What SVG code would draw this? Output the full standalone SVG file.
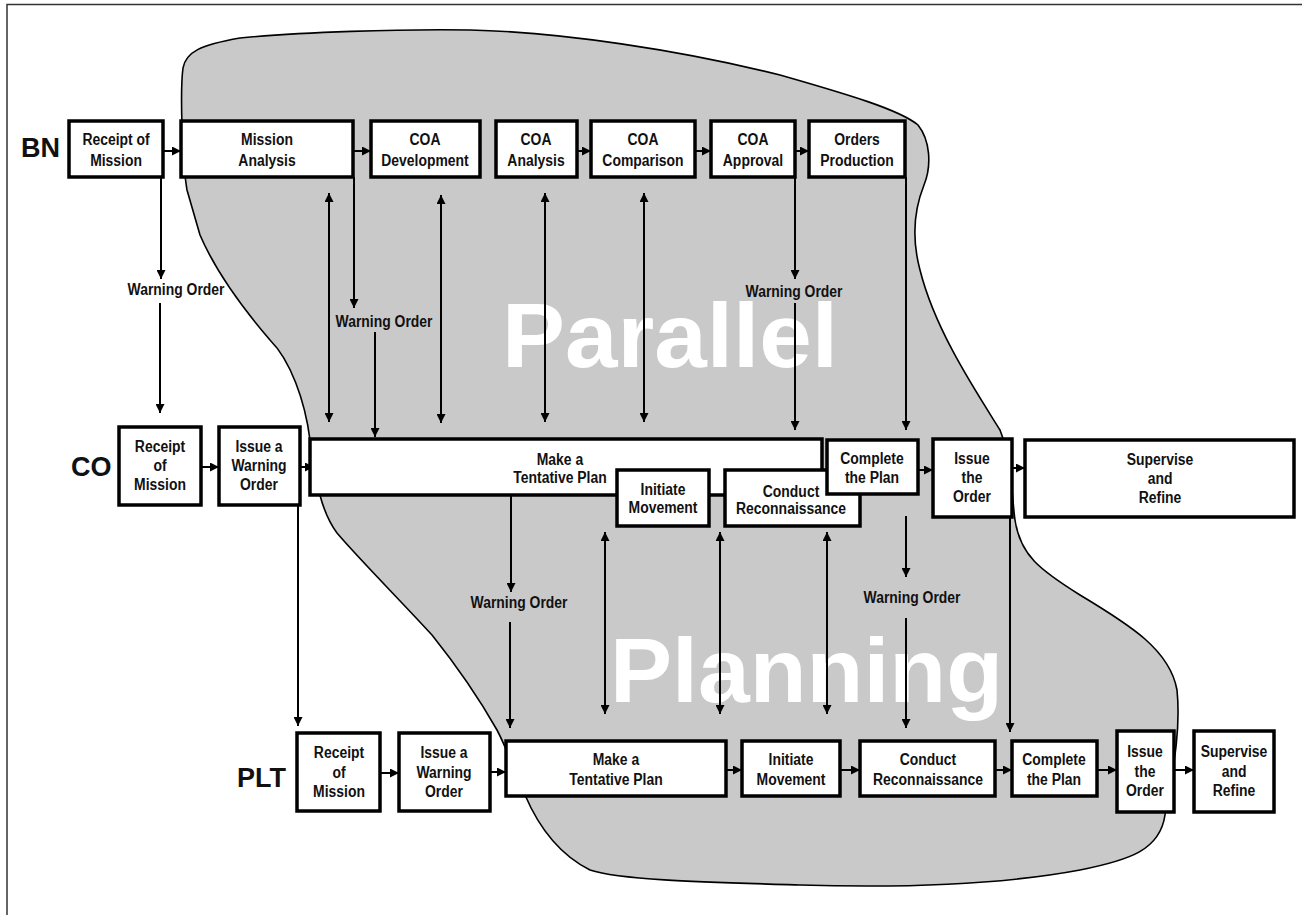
<svg xmlns="http://www.w3.org/2000/svg" width="1302" height="915" viewBox="0 0 1302 915">
  <style>
    .frame { fill: none; stroke: #333; stroke-width: 1.5; }
    .blob { fill: #c9c9c9; stroke: #000; stroke-width: 1.6; }
    .box { fill: #fff; stroke: #000; stroke-width: 3.5; }
    .t { font-family: "Liberation Sans Narrow", "Liberation Sans", Arial, sans-serif; font-weight: bold; font-size: 17px; text-anchor: middle; fill: #111;
         transform-box: fill-box; transform-origin: center; transform: scaleX(0.82); }
    .lvl { font-family: "Liberation Sans", Arial, sans-serif; font-weight: bold; font-size: 27px; fill: #111; }
    .big { font-family: "Liberation Sans", Arial, sans-serif; font-weight: bold; font-size: 90px; fill: #fff; }
    .ln { stroke: #000; stroke-width: 2; fill: none; }
  </style>
  <defs>
    <marker id="ah" viewBox="0 0 10 10" refX="10" refY="5" markerWidth="9" markerHeight="9" markerUnits="userSpaceOnUse" orient="auto-start-reverse">
      <path d="M0,0 L10,5 L0,10 Z" fill="#000"/>
    </marker>
  </defs>

  <rect width="1302" height="915" fill="#fff"/>
  <path class="frame" d="M7,920 L7,4.5 L1310,4.5"/>

  <!-- shaded region of parallel planning -->
  <path id="region" class="blob" d="M187,190 C182,160 180,90 183,68 C186,52 200,45 240,38 C300,32 400,29 470,30 C560,32 680,50 780,75 C850,95 900,110 918,125 C930,140 932,165 924,185 C914,210 912,240 920,270 C935,330 975,390 1000,430 C1012,460 1012,500 1015,520 C1020,555 1040,570 1080,595 C1130,625 1170,650 1177,690 C1182,740 1168,790 1165,815 C1160,850 1130,860 1080,870 C1000,885 900,888 800,885 C700,882 620,880 590,870 C560,855 540,830 525,795 C515,770 505,745 497,730 C480,700 460,670 432,635 C400,600 360,560 337,533 C320,510 316,480 310,440 C305,400 290,360 270,340 C240,305 215,270 200,235 Z"/>

  <text class="big" x="502" y="367" textLength="336" lengthAdjust="spacingAndGlyphs">Parallel</text>
  <text class="big" x="610" y="702" textLength="393" lengthAdjust="spacingAndGlyphs">Planning</text>

  <!-- echelon labels -->
  <text class="lvl" x="21" y="157">BN</text>
  <text class="lvl" x="71" y="476">CO</text>
  <text class="lvl" x="237" y="787">PLT</text>

  <!-- connectors -->
  <g id="connectors">
    <!-- BN row -->
    <line class="ln" x1="163" y1="151" x2="181" y2="151" marker-end="url(#ah)"/>
    <line class="ln" x1="353" y1="151" x2="371" y2="151" marker-end="url(#ah)"/>
    <line class="ln" x1="577" y1="151" x2="591" y2="151" marker-end="url(#ah)"/>
    <line class="ln" x1="695" y1="151" x2="711" y2="151" marker-end="url(#ah)"/>
    <line class="ln" x1="795" y1="151" x2="809" y2="151" marker-end="url(#ah)"/>
    <!-- CO row -->
    <line class="ln" x1="201" y1="467" x2="219" y2="467" marker-end="url(#ah)"/>
    <line class="ln" x1="300" y1="467" x2="314" y2="467" marker-end="url(#ah)"/>
    <line class="ln" x1="918" y1="470" x2="933" y2="470" marker-end="url(#ah)"/>
    <line class="ln" x1="1012" y1="468" x2="1025" y2="468" marker-end="url(#ah)"/>
    <!-- PLT row -->
    <line class="ln" x1="380" y1="773" x2="399" y2="773" marker-end="url(#ah)"/>
    <line class="ln" x1="490" y1="772" x2="506" y2="772" marker-end="url(#ah)"/>
    <line class="ln" x1="726" y1="770" x2="742" y2="770" marker-end="url(#ah)"/>
    <line class="ln" x1="840" y1="770" x2="860" y2="770" marker-end="url(#ah)"/>
    <line class="ln" x1="995" y1="770" x2="1012" y2="770" marker-end="url(#ah)"/>
    <line class="ln" x1="1097" y1="770" x2="1117" y2="770" marker-end="url(#ah)"/>
    <line class="ln" x1="1174" y1="770" x2="1194" y2="770" marker-end="url(#ah)"/>

    <!-- BN to CO -->
    <line class="ln" x1="161" y1="177" x2="161" y2="279" marker-end="url(#ah)"/>
    <line class="ln" x1="160" y1="303" x2="160" y2="413" marker-end="url(#ah)"/>
    <line class="ln" x1="354" y1="177" x2="354" y2="308" marker-end="url(#ah)"/>
    <line class="ln" x1="375" y1="332" x2="375" y2="437" marker-end="url(#ah)"/>
    <line class="ln" x1="329" y1="193" x2="329" y2="422" marker-start="url(#ah)" marker-end="url(#ah)"/>
    <line class="ln" x1="441" y1="195" x2="441" y2="423" marker-start="url(#ah)" marker-end="url(#ah)"/>
    <line class="ln" x1="545" y1="193" x2="545" y2="422" marker-start="url(#ah)" marker-end="url(#ah)"/>
    <line class="ln" x1="644" y1="193" x2="644" y2="422" marker-start="url(#ah)" marker-end="url(#ah)"/>
    <line class="ln" x1="795" y1="177" x2="795" y2="279" marker-end="url(#ah)"/>
    <line class="ln" x1="795" y1="303" x2="795" y2="430" marker-end="url(#ah)"/>
    <line class="ln" x1="906" y1="177" x2="906" y2="430" marker-end="url(#ah)"/>

    <!-- CO to PLT -->
    <line class="ln" x1="298" y1="505" x2="298" y2="726" marker-end="url(#ah)"/>
    <line class="ln" x1="511" y1="495" x2="511" y2="592" marker-end="url(#ah)"/>
    <line class="ln" x1="510" y1="622" x2="510" y2="728" marker-end="url(#ah)"/>
    <line class="ln" x1="605" y1="532" x2="605" y2="714" marker-start="url(#ah)" marker-end="url(#ah)"/>
    <line class="ln" x1="720" y1="532" x2="720" y2="714" marker-start="url(#ah)" marker-end="url(#ah)"/>
    <line class="ln" x1="827" y1="532" x2="827" y2="714" marker-start="url(#ah)" marker-end="url(#ah)"/>
    <line class="ln" x1="906" y1="516" x2="906" y2="577" marker-end="url(#ah)"/>
    <line class="ln" x1="906" y1="618" x2="906" y2="728" marker-end="url(#ah)"/>
    <line class="ln" x1="1010" y1="517" x2="1010" y2="732" marker-end="url(#ah)"/>

    <!-- connector labels -->
    <text class="t" x="176" y="295">Warning Order</text>
    <text class="t" x="384" y="327">Warning Order</text>
    <text class="t" x="794" y="297">Warning Order</text>
    <text class="t" x="519" y="608">Warning Order</text>
    <text class="t" x="912" y="603">Warning Order</text>
  </g>

  <!-- BN nodes -->
  <g id="bn-receipt"><rect class="box" x="69" y="121" width="94" height="56"/><text class="t" x="116" y="145">Receipt of<tspan x="116" dy="21">Mission</tspan></text></g>
  <g id="bn-mission-analysis"><rect class="box" x="181" y="121" width="172" height="56"/><text class="t" x="267" y="145">Mission<tspan x="267" dy="21">Analysis</tspan></text></g>
  <g id="bn-coa-development"><rect class="box" x="371" y="121" width="109" height="56"/><text class="t" x="425" y="145">COA<tspan x="425" dy="21">Development</tspan></text></g>
  <g id="bn-coa-analysis"><rect class="box" x="496" y="121" width="81" height="56"/><text class="t" x="536" y="145">COA<tspan x="536" dy="21">Analysis</tspan></text></g>
  <g id="bn-coa-comparison"><rect class="box" x="591" y="121" width="104" height="56"/><text class="t" x="643" y="145">COA<tspan x="643" dy="21">Comparison</tspan></text></g>
  <g id="bn-coa-approval"><rect class="box" x="711" y="121" width="84" height="56"/><text class="t" x="753" y="145">COA<tspan x="753" dy="21">Approval</tspan></text></g>
  <g id="bn-orders-production"><rect class="box" x="809" y="121" width="96" height="56"/><text class="t" x="857" y="145">Orders<tspan x="857" dy="21">Production</tspan></text></g>

  <!-- CO nodes -->
  <g id="co-receipt"><rect class="box" x="119" y="427" width="82" height="78"/><text class="t" x="160" y="452">Receipt<tspan x="160" dy="19">of</tspan><tspan x="160" dy="19">Mission</tspan></text></g>
  <g id="co-issue-warning"><rect class="box" x="219" y="427" width="81" height="78"/><text class="t" x="259" y="452">Issue a<tspan x="259" dy="19">Warning</tspan><tspan x="259" dy="19">Order</tspan></text></g>
  <g id="co-tentative-plan"><rect class="box" x="310" y="439" width="512" height="56"/><text class="t" x="560" y="465">Make a<tspan x="560" dy="18">Tentative Plan</tspan></text></g>
  <g id="co-initiate-movement"><rect class="box" x="617" y="470" width="92" height="56"/><text class="t" x="663" y="495">Initiate<tspan x="663" dy="18">Movement</tspan></text></g>
  <g id="co-conduct-recon"><rect class="box" x="725" y="470" width="135" height="56"/><text class="t" x="791" y="497">Conduct<tspan x="791" dy="17">Reconnaissance</tspan></text></g>
  <g id="co-complete-plan"><rect class="box" x="827" y="440" width="91" height="54"/><text class="t" x="872" y="464">Complete<tspan x="872" dy="19">the Plan</tspan></text></g>
  <g id="co-issue-order"><rect class="box" x="933" y="439" width="79" height="78"/><text class="t" x="972" y="464">Issue<tspan x="972" dy="19">the</tspan><tspan x="972" dy="19">Order</tspan></text></g>
  <g id="co-supervise"><rect class="box" x="1025" y="440" width="269" height="77"/><text class="t" x="1160" y="465">Supervise<tspan x="1160" dy="19">and</tspan><tspan x="1160" dy="19">Refine</tspan></text></g>

  <!-- PLT nodes -->
  <g id="plt-receipt"><rect class="box" x="297" y="733" width="83" height="78"/><text class="t" x="339" y="758">Receipt<tspan x="339" dy="20">of</tspan><tspan x="339" dy="19">Mission</tspan></text></g>
  <g id="plt-issue-warning"><rect class="box" x="399" y="733" width="91" height="78"/><text class="t" x="444" y="758">Issue a<tspan x="444" dy="20">Warning</tspan><tspan x="444" dy="19">Order</tspan></text></g>
  <g id="plt-tentative-plan"><rect class="box" x="506" y="741" width="220" height="55"/><text class="t" x="616" y="765">Make a<tspan x="616" dy="20">Tentative Plan</tspan></text></g>
  <g id="plt-initiate-movement"><rect class="box" x="742" y="741" width="98" height="55"/><text class="t" x="791" y="765">Initiate<tspan x="791" dy="20">Movement</tspan></text></g>
  <g id="plt-conduct-recon"><rect class="box" x="860" y="741" width="135" height="55"/><text class="t" x="928" y="765">Conduct<tspan x="928" dy="20">Reconnaissance</tspan></text></g>
  <g id="plt-complete-plan"><rect class="box" x="1012" y="741" width="85" height="55"/><text class="t" x="1054" y="765">Complete<tspan x="1054" dy="20">the Plan</tspan></text></g>
  <g id="plt-issue-order"><rect class="box" x="1117" y="731" width="57" height="81"/><text class="t" x="1145" y="757">Issue<tspan x="1145" dy="20">the</tspan><tspan x="1145" dy="19">Order</tspan></text></g>
  <g id="plt-supervise"><rect class="box" x="1194" y="731" width="80" height="81"/><text class="t" x="1234" y="757">Supervise<tspan x="1234" dy="20">and</tspan><tspan x="1234" dy="19">Refine</tspan></text></g>
</svg>
